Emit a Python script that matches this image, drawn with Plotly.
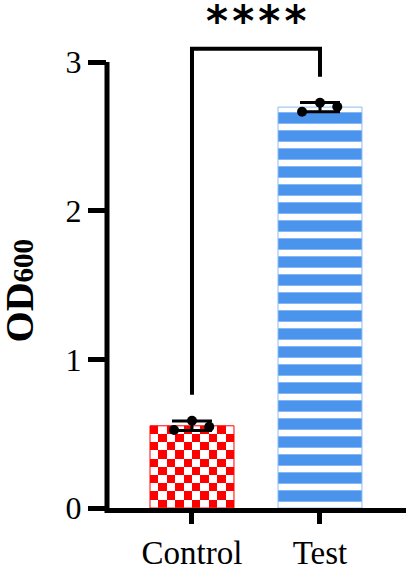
import numpy as np
import plotly.graph_objects as go

# ---- data ----
categories = ["Control", "Test"]
control_values = [0.525, 0.587, 0.547]
test_values = [2.665, 2.726, 2.699]
y_tick_values = [0, 1, 2, 3]
y_tick_labels = ["0", "1", "2", "3"]
significance_label = "\u200a".join("****")

# ---- styles ----
bar_width = 0.656
jitter = [-0.14, 0.0, 0.135]
red = "#ff0000"
blue = "#4a94ee"
serif = "Liberation Serif"
y_max = 3.35
x_range = [-0.664, 1.672]
bracket_gap = 0.175
bracket_top = 3.09

groups = [control_values, test_values]
means = [float(np.mean(g)) for g in groups]
sds = [float(np.std(g, ddof=1)) for g in groups]

fig = go.Figure()

# checkerboard fill for Control bar (heatmap beneath a transparent bar)
nx, ny = 10, 10
xe = np.linspace(0 - bar_width / 2, 0 + bar_width / 2, nx + 1)
ye = np.linspace(0, means[0], ny + 1)
z = [[(i + j + ny - 1) % 2 for j in range(nx)] for i in range(ny)]
fig.add_trace(go.Heatmap(
    x=xe, y=ye, z=z, zmin=0, zmax=1,
    colorscale=[[0, red], [1, "#ffffff"]],
    showscale=False, hoverinfo="skip", zsmooth=False,
))

# Control bar (outline + error bar)
fig.add_trace(go.Bar(
    x=[0], y=[means[0]], width=bar_width,
    marker=dict(color="rgba(0,0,0,0)", line=dict(color=red, width=1)),
    error_y=dict(type="data", array=[sds[0]], visible=True,
                 color="black", thickness=3, width=20),
    showlegend=False,
))

# Test bar with horizontal stripes
fig.add_trace(go.Bar(
    x=[1], y=[means[1]], width=bar_width,
    marker=dict(color=blue,
                line=dict(color="#8cbcf4", width=1),
                pattern=dict(shape="-", bgcolor=blue, fgcolor="#ffffff",
                             size=18, solidity=0.37, fillmode="replace")),
    error_y=dict(type="data", array=[sds[1]], visible=True,
                 color="black", thickness=3, width=20),
    showlegend=False,
))

# individual points
for gi, g in enumerate(groups):
    fig.add_trace(go.Scatter(
        x=[gi + j for j in jitter], y=g, mode="markers",
        marker=dict(color="black", size=10),
        showlegend=False, cliponaxis=False,
    ))

# significance bracket
left_leg = max(control_values) + bracket_gap
right_leg = max(test_values) + bracket_gap
fig.add_shape(type="path",
              path=f"M 0,{left_leg} L 0,{bracket_top} L 1,{bracket_top} L 1,{right_leg}",
              xref="x", yref="y", line=dict(color="black", width=4))
fig.add_annotation(x=0.5, y=3.27, xref="x", yref="y", text=f"<b>{significance_label}</b>",
                   showarrow=False, font=dict(family="DejaVu Sans", size=42, color="black"))

# y axis line limited to 0..3
fig.add_shape(type="line", xref="paper", yref="paper", x0=0, x1=0,
              y0=-5 / 498, y1=max(y_tick_values) / y_max,
              line=dict(color="black", width=5))

# y title
fig.add_annotation(xref="paper", yref="y", x=0, y=1.46, xshift=-112,
                   text='<b>OD<span style="font-size:29px">600</span></b>',
                   textangle=-90, showarrow=False,
                   font=dict(family=serif, size=40, color="black"))

fig.update_layout(
    width=413, height=569,
    margin=dict(l=107, r=7, t=10, b=61, autoexpand=False),
    paper_bgcolor="white", plot_bgcolor="white",
    barmode="overlay", showlegend=False,
    xaxis=dict(range=x_range, tickvals=[0, 1], ticktext=categories,
               automargin=False,
               showline=True, linecolor="black", linewidth=5,
               ticks="outside", ticklen=11, tickwidth=5, tickcolor="black",
               showgrid=False, zeroline=False,
               tickfont=dict(family=serif, size=33, color="black")),
    xaxis2=dict(range=x_range, overlaying="x", anchor="y", side="bottom",
                tickvals=[0, 1], showticklabels=False, automargin=False,
                ticks="outside", ticklen=19, tickwidth=5, tickcolor="black",
                showline=False, showgrid=False, zeroline=False),
    yaxis=dict(range=[0, y_max], tickvals=y_tick_values, ticktext=y_tick_labels,
               automargin=False,
               showline=False, ticks="outside", ticklen=18, tickwidth=5,
               tickcolor="black", showgrid=False, zeroline=False,
               tickfont=dict(family=serif, size=32, color="black")),
)

fig.write_html("out.html", config={"displayModeBar": False},
               post_script="document.body.style.margin='0';document.body.style.overflow='hidden';")
